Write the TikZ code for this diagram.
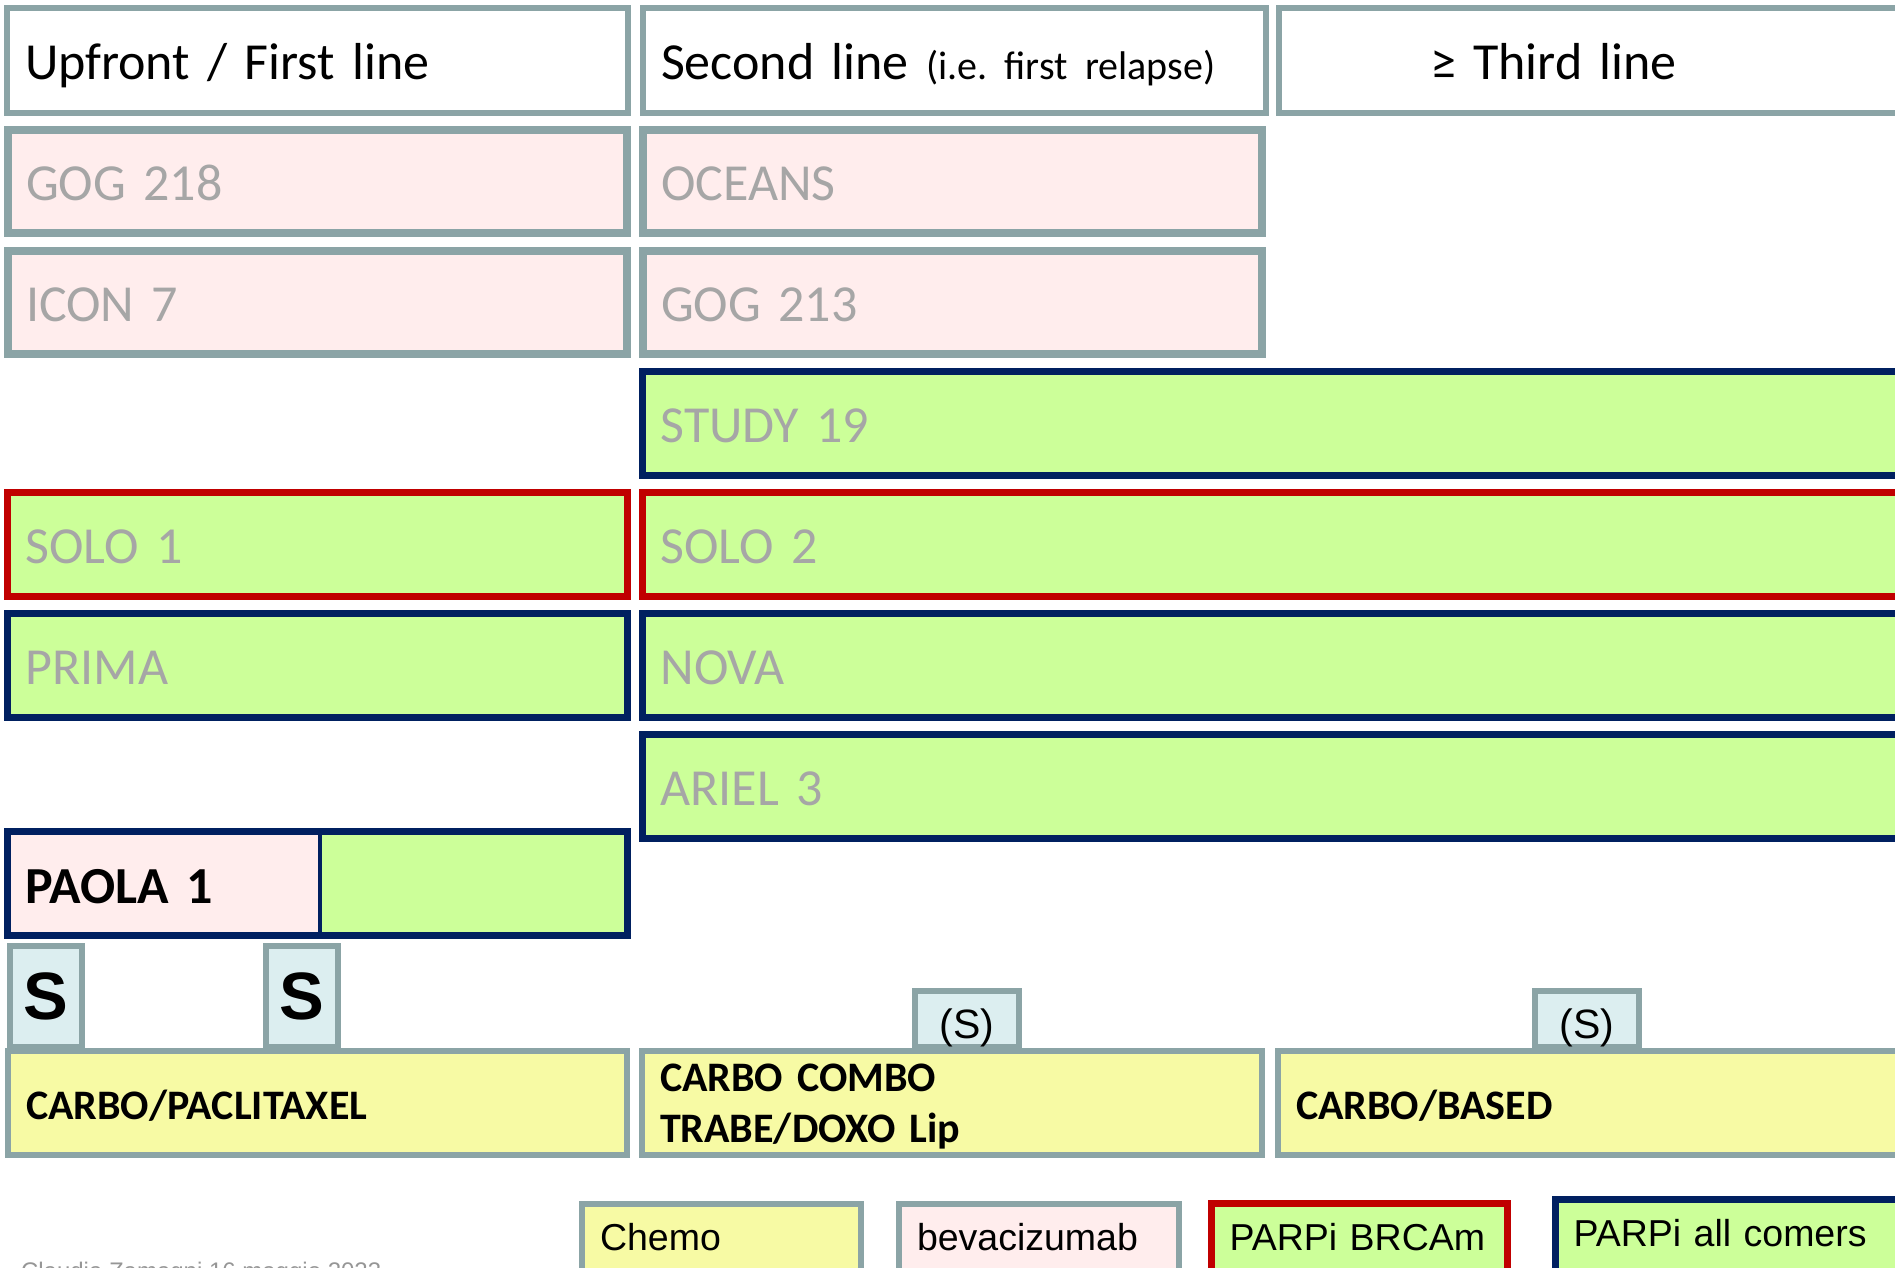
\documentclass[tikz,border=0pt]{standalone}
\usepackage{fontspec}
\setmainfont{Carlito}[WordSpace=0.85]
\newfontfamily\arialf{Liberation Sans}
\frenchspacing
\definecolor{gborder}{RGB}{139,164,166}
\definecolor{pinkf}{RGB}{255,237,237}
\definecolor{greenf}{RGB}{204,255,153}
\definecolor{redc}{RGB}{192,0,0}
\definecolor{navyc}{RGB}{0,32,96}
\definecolor{yellowf}{RGB}{247,250,164}
\definecolor{sfill}{RGB}{220,238,240}
\definecolor{tgray}{RGB}{166,166,166}
\definecolor{footgray}{RGB}{150,150,150}
\begin{document}
\frenchspacing
\begin{tikzpicture}[x=1pt,y=-1pt,
  every node/.style={anchor=north west, inner ysep=0pt, inner xsep=18pt, outer sep=0pt, align=left},
  cellw/.style={minimum width=#1, text width=#1-36pt},
  big/.style={font=\fontsize{52}{62}\selectfont, text height=41pt, text depth=3pt},
  hdr/.style={big, draw=gborder, line width=6pt, fill=white, minimum height=105pt},
  gtrial/.style={big, draw=gborder, line width=8pt, fill=pinkf, text=tgray, minimum height=103pt},
  ctrial/.style={big, line width=7pt, fill=greenf, text=tgray, minimum height=104pt},
  chemo/.style={draw=gborder, line width=6pt, fill=yellowf, minimum height=104pt,
     font=\bfseries\fontsize{42}{51}\selectfont, text height=35pt, text depth=3pt},
  sbox/.style={draw=gborder, line width=6pt, fill=sfill, inner sep=0pt, align=center,
     font=\arialf\bfseries\fontsize{67}{80}\selectfont, minimum width=72pt, minimum height=101pt},
  psbox/.style={draw=gborder, line width=6pt, fill=sfill, inner sep=0pt, align=center,
     font=\arialf\fontsize{41}{48}\selectfont, text height=44pt, text depth=6pt,
     minimum width=104pt, minimum height=56pt},
  legend/.style={font=\arialf\fontsize{37.5}{45}\selectfont, text height=28pt, text depth=36pt}
]
\path[use as bounding box] (0,0) rectangle (1895,1267);
\clip (0,0) rectangle (1895,1267);

% header row
\node[hdr, cellw=621pt] (h1) at (7,8) {Upfront / First line};
\node[hdr, cellw=623pt] (h2) at (643,8) {Second line {\fontsize{40}{48}\selectfont (i.e. first relapse)}};
\node[hdr, cellw=623pt] (h3) at (1279,8) {\hspace*{133pt}≥ Third line};

% bevacizumab trials
\node[gtrial, cellw=619pt] (gog218) at (8,130) {GOG 218};
\node[gtrial, cellw=619pt] (oceans) at (643,130) {OCEANS};
\node[gtrial, cellw=619pt] (icon7) at (8,251) {ICON 7};
\node[gtrial, cellw=619pt] (gog213) at (643,251) {GOG 213};

% PARPi trials
\node[ctrial, draw=navyc, cellw=1262pt] (study19) at (642.5,371.5) {STUDY 19};
\node[ctrial, draw=redc, cellw=620pt] (solo1) at (7.5,492.5) {SOLO 1};
\node[ctrial, draw=redc, cellw=1262pt] (solo2) at (642.5,492.5) {SOLO 2};
\node[ctrial, draw=navyc, cellw=620pt] (prima) at (7.5,613.5) {PRIMA};
\node[ctrial, draw=navyc, cellw=1262pt] (nova) at (642.5,613.5) {NOVA};
\node[ctrial, draw=navyc, cellw=1262pt] (ariel3) at (642.5,734.5) {ARIEL 3};

% PAOLA 1
\node[ctrial, draw=navyc, fill=pinkf, text=black, cellw=620pt,
      font=\bfseries\fontsize{52}{62}\selectfont, text height=43pt] (paola) at (7.5,831.5) {PAOLA 1};
\coordinate (pdivtop) at (320,831.5);
\coordinate (pdivbot) at (320,935.5);
\fill[greenf] (pdivtop) rectangle (paola.south east);
\draw[navyc, line width=4pt] (pdivtop) -- (pdivbot);
\draw[navyc, line width=7pt] (paola.north west) rectangle (paola.south east);

% surgery boxes
\node[sbox] (s1) at (10,946) {S};
\node[sbox] (s2) at (266,946) {S};
\node[psbox] (ps1) at (915,991) {(S)};
\node[psbox] (ps2) at (1535,991) {(S)};

% chemo row
\node[chemo, cellw=619pt] (cp) at (8,1051) {CARBO/PACLITAXEL};
\node[chemo, cellw=620pt, text height=36pt, text depth=60pt] (cc) at (642,1051) {CARBO COMBO\\TRABE/DOXO Lip};
\node[chemo, cellw=622pt] (cb) at (1278,1051) {CARBO/BASED};

% legend
\node[legend, draw=gborder, line width=6pt, fill=yellowf, cellw=279pt, minimum height=100pt] (lchemo) at (582,1204) {Chemo};
\node[legend, draw=gborder, line width=6pt, fill=pinkf, cellw=280pt, minimum height=100pt] (lbev) at (899,1204) {bevacizumab};
\node[legend, draw=redc, line width=7pt, fill=greenf, cellw=296pt, minimum height=101pt] (lbrca) at (1211.5,1203.5) {PARPi BRCAm};
\node[legend, draw=navyc, line width=7pt, fill=greenf, cellw=345pt, minimum height=101pt] (lall) at (1555.5,1199.5) {PARPi all comers};

% footer (cut by page edge, as in the reference)
\node[anchor=base west, inner sep=0pt, font=\arialf\fontsize{24}{28}\selectfont, text=footgray] (footer) at (21,1279) {Claudia Zamagni 16 maggio 2023};
\end{tikzpicture}
\end{document}
